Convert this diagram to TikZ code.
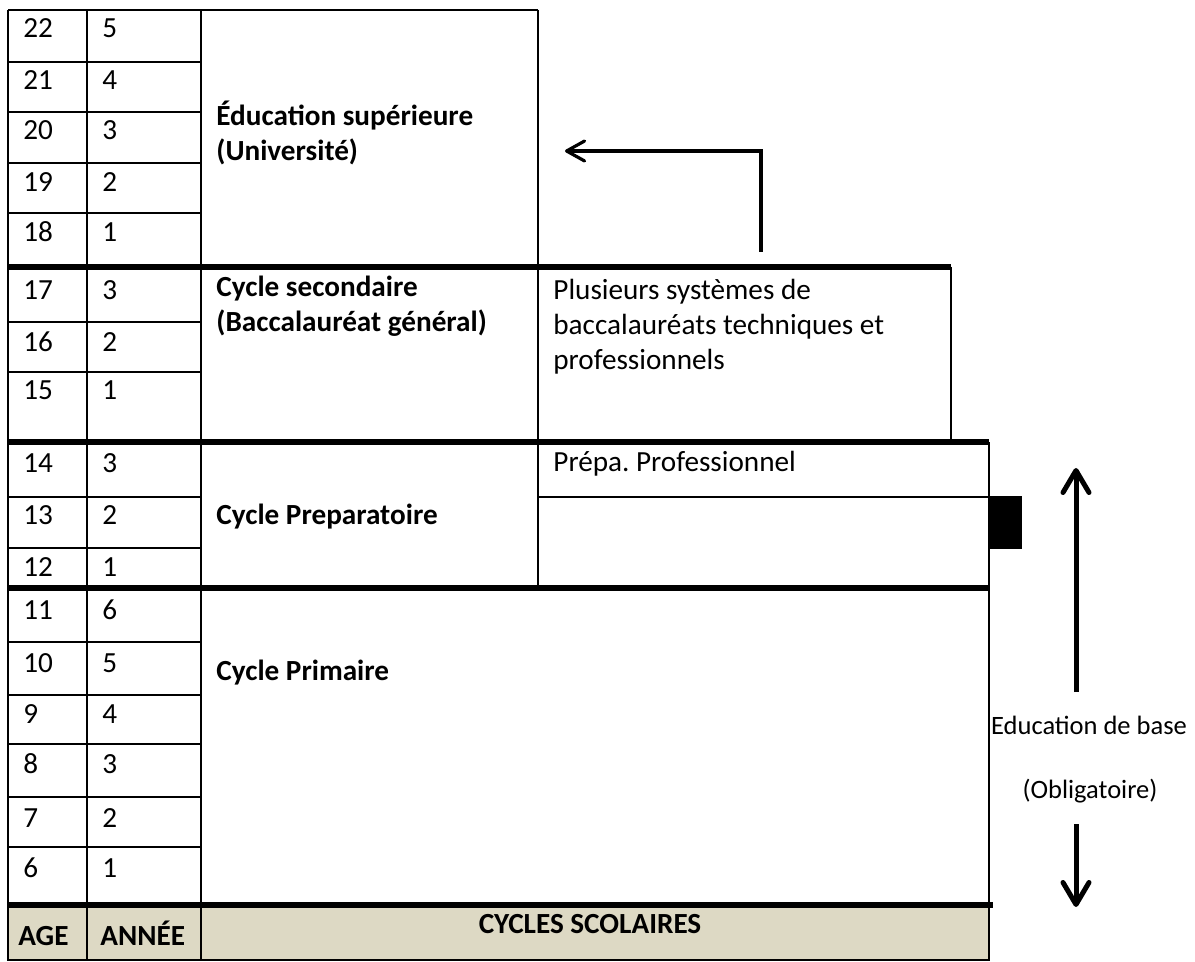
\documentclass[tikz,border=0pt]{standalone}
\usepackage{fontspec}
\setmainfont{Carlito}
\usetikzlibrary{arrows.meta}
\definecolor{headtan}{HTML}{DDD9C4}
\newcommand{\mainsize}{\fontsize{14.6}{17.6}\selectfont\frenchspacing}
\tikzstyle{num} = [anchor=base west, inner sep=0pt]
\tikzstyle{cyclelabel} = [anchor=base west, inner sep=0pt, align=left, font=\mainsize\bfseries]
\tikzstyle{plain} = [anchor=base west, inner sep=0pt, align=left]
\tikzstyle{side} = [anchor=base, inner sep=0pt, font=\fontsize{13.25}{16}\selectfont]
\tikzstyle{thinline} = [line width=1.3pt]
\tikzstyle{thickline} = [line width=2.6pt]
\tikzstyle{arrow} = [line width=1.6pt, -{Straight Barb[round,length=9pt,width=10pt]}]
\tikzstyle{bigarrow} = [line width=2.5pt, -{Straight Barb[round,length=11pt,width=13pt]}]

\begin{document}
\begin{tikzpicture}[x=0.5pt, y=-0.5pt, font=\mainsize]
\useasboundingbox (0,0) rectangle (1195,962);

% Header band
\fill[headtan] (8,905) rectangle (989,960);

% Grid
\draw[thinline] (8,10) -- (538,10);
\draw[thinline] (8,10) -- (8,960) -- (989,960) -- (989,442);
\draw[thinline] (87,10) -- (87,960);
\draw[thinline] (201,10) -- (201,960);
\draw[thinline] (538,10) -- (538,588);
\draw[thinline] (951,267) -- (951,442);
\draw[thinline] (538,497) -- (989,497);
\foreach \y in {62,112,163,213,322,372,497,548,642,695,744,797,847}
    \draw[thinline] (8,\y) -- (201,\y);
\draw[thickline] (8,267) -- (951,267);
\draw[thickline] (8,442) -- (989,442);
\draw[thickline] (8,588) -- (989,588);
\draw[thickline] (8,905) -- (993,905);
\fill (989,496) rectangle (1022,549);

% Ages and years
\node (age22) [num] at (23,38) {22};  \node (yr22) [num] at (102,38) {5};
\node (age21) [num] at (23,90) {21};  \node (yr21) [num] at (102,90) {4};
\node (age20) [num] at (23,140) {20}; \node (yr20) [num] at (102,140) {3};
\node (age19) [num] at (23,192) {19}; \node (yr19) [num] at (102,192) {2};
\node (age18) [num] at (23,242) {18}; \node (yr18) [num] at (102,242) {1};
\node (age17) [num] at (23,300) {17}; \node (yr17) [num] at (102,300) {3};
\node (age16) [num] at (23,352) {16}; \node (yr16) [num] at (102,352) {2};
\node (age15) [num] at (23,400) {15}; \node (yr15) [num] at (102,400) {1};
\node (age14) [num] at (23,473) {14}; \node (yr14) [num] at (102,473) {3};
\node (age13) [num] at (23,525) {13}; \node (yr13) [num] at (102,525) {2};
\node (age12) [num] at (23,577) {12}; \node (yr12) [num] at (102,577) {1};
\node (age11) [num] at (23,619) {11}; \node (yr11) [num] at (102,619) {6};
\node (age10) [num] at (23,672) {10}; \node (yr10) [num] at (102,672) {5};
\node (age9) [num] at (23,723) {9};   \node (yr9) [num] at (102,723) {4};
\node (age8) [num] at (23,773) {8};   \node (yr8) [num] at (102,773) {3};
\node (age7) [num] at (23,827) {7};   \node (yr7) [num] at (102,827) {2};
\node (age6) [num] at (23,877) {6};   \node (yr6) [num] at (102,877) {1};

% Cycles (base = last line)
\node (univ) [cyclelabel] at (216,161) {Éducation supérieure\\(Université)};
\node (second) [cyclelabel] at (216,332) {Cycle secondaire\\(Baccalauréat général)};
\node (prepa) [cyclelabel] at (216,525) {Cycle Preparatoire};
\node (primaire) [cyclelabel] at (216,681) {Cycle Primaire};
\node (bactech) [plain] at (553,370) {Plusieurs systèmes de\\baccalauréats techniques et\\professionnels};
\node (prepapro) [plain] at (553,472) {Prépa. Professionnel};

% Header
\node (agehead) [num, font=\mainsize\bfseries] at (18,945) {AGE};
\node (yrhead) [num, font=\mainsize\bfseries] at (100,945) {ANNÉE};
\node (cyclehead) [anchor=base, inner sep=0pt, font=\mainsize\bfseries] at (590,933) {CYCLES SCOLAIRES};

% Side notes
\node (basic) [side] at (1089,734) {Education de base};
\node (oblig) [side] at (1090,798) {(Obligatoire)};

% Arrows
\coordinate (bacstart) at (761,252);
\coordinate (univend) at (565,151);
\coordinate (uplow) at (1076,692);
\coordinate (uphigh) at (1076,468);
\coordinate (downhigh) at (1076,824);
\coordinate (downlow) at (1076,907);
\draw [arrow] (bacstart) |- (univend);
\draw [bigarrow] (uplow) -- (uphigh);
\draw [bigarrow] (downhigh) -- (downlow);

\end{tikzpicture}
\end{document}
